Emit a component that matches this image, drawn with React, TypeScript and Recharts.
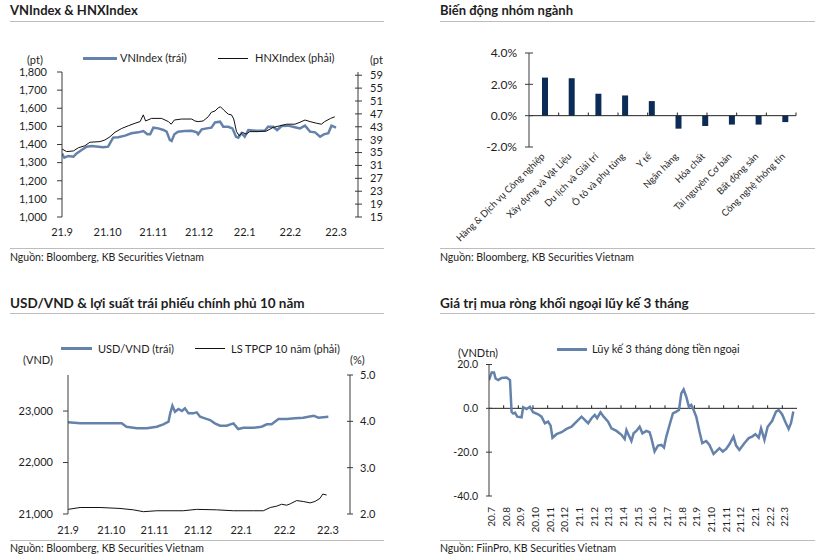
import React from 'react'
import {
  LineChart, Line, BarChart, Bar, XAxis, YAxis, ReferenceLine,
} from 'recharts'

// ---- VNIndex & HNXIndex (x = months since 21.9) ----
const idxMonths = ['21.9', '21.10', '21.11', '21.12', '22.1', '22.2', '22.3']
const vnIndex: [number, number][] = [
  [0, 1351], [0.05, 1327], [0.14, 1337], [0.25, 1333], [0.32, 1351], [0.43, 1370],
  [0.54, 1388], [0.65, 1392], [0.8, 1388], [0.9, 1385], [1.01, 1388], [1.07, 1416],
  [1.12, 1438], [1.23, 1440], [1.38, 1449], [1.52, 1462], [1.67, 1467], [1.78, 1474],
  [1.87, 1456], [1.93, 1456], [2.0, 1493], [2.11, 1489], [2.22, 1480], [2.29, 1471],
  [2.36, 1425], [2.4, 1419], [2.46, 1456], [2.54, 1471], [2.69, 1474], [2.84, 1476],
  [2.95, 1467], [2.98, 1456], [3.06, 1484], [3.17, 1489], [3.27, 1493], [3.35, 1522],
  [3.46, 1526], [3.53, 1498], [3.64, 1498], [3.73, 1489], [3.81, 1443], [3.86, 1438],
  [3.93, 1462], [4.0, 1443], [4.08, 1480], [4.26, 1476], [4.44, 1476], [4.51, 1498],
  [4.62, 1498], [4.71, 1480], [4.81, 1502], [4.95, 1504], [5.1, 1495], [5.21, 1489],
  [5.32, 1504], [5.43, 1471], [5.54, 1467], [5.65, 1443], [5.73, 1456], [5.83, 1462],
  [5.9, 1504], [6.0, 1493],
]
const hnxIndex: [number, number][] = [
  [0, 361], [0.1, 353], [0.25, 355], [0.36, 365], [0.5, 371], [0.61, 382], [0.83, 384],
  [0.94, 389], [1.05, 399], [1.16, 413], [1.31, 425], [1.45, 433], [1.6, 441], [1.71, 446],
  [1.78, 467], [1.83, 448], [1.96, 456], [2.18, 456], [2.33, 446], [2.39, 438], [2.46, 451],
  [2.62, 454], [2.84, 454], [2.91, 448], [2.98, 446], [3.09, 448], [3.2, 461], [3.27, 475],
  [3.35, 479], [3.42, 489], [3.47, 492], [3.54, 482], [3.64, 469], [3.71, 467], [3.76, 454],
  [3.82, 415], [3.88, 402], [3.95, 413], [4.03, 407], [4.11, 415], [4.3, 415], [4.48, 417],
  [4.62, 428], [4.77, 433], [4.92, 438], [5.1, 438], [5.21, 444], [5.32, 451], [5.43, 446],
  [5.57, 441], [5.68, 438], [5.75, 446], [5.88, 456], [5.97, 461],
]
const vnTicks = [1000, 1100, 1200, 1300, 1400, 1500, 1600, 1700, 1800]
const hnxTicks = [150, 190, 230, 270, 310, 350, 390, 430, 470, 510, 550, 590]

// ---- Biến động nhóm ngành ----
const sectors = [
  'Hàng & Dịch vụ Công nghiệp', 'Xây dựng và Vật Liệu', 'Du lịch và Giải trí',
  'Ô tô và phụ tùng', 'Y tế', 'Ngân hàng', 'Hóa chất', 'Tài nguyên Cơ bản',
  'Bất động sản', 'Công nghệ thông tin',
]
const sectorChange = [2.43, 2.39, 1.4, 1.29, 0.93, -0.83, -0.66, -0.57, -0.57, -0.41]
const sectorTicks = [-2, 0, 2, 4]

// ---- USD/VND & LS TPCP 10 năm ----
const fxMonths = ['21.9', '21.10', '21.11', '21.12', '22.1', '22.2', '22.3']
const usdVnd: [number, number][] = [
  [0, 22780], [0.28, 22761], [0.74, 22761], [1.24, 22761], [1.35, 22695], [1.59, 22664],
  [1.82, 22664], [2.05, 22695], [2.2, 22742], [2.32, 22792], [2.36, 22955], [2.41, 23103],
  [2.47, 22987], [2.55, 23039], [2.63, 23000], [2.7, 23052], [2.78, 22955], [2.89, 22955],
  [2.97, 22975], [3.05, 22890], [3.16, 22858], [3.28, 22825], [3.39, 22761], [3.51, 22715],
  [3.66, 22715], [3.82, 22761], [3.93, 22650], [4.05, 22676], [4.28, 22676], [4.47, 22695],
  [4.59, 22742], [4.7, 22742], [4.86, 22845], [5.05, 22845], [5.24, 22858], [5.43, 22870],
  [5.67, 22909], [5.78, 22870], [6.01, 22890],
]
const bondYield: [number, number][] = [
  [0, 2.1], [0.28, 2.14], [0.74, 2.14], [1.2, 2.12], [1.51, 2.09], [1.74, 2.05], [2.05, 2.07],
  [2.66, 2.07], [2.97, 2.1], [3.43, 2.09], [3.82, 2.07], [4.28, 2.07], [4.51, 2.07],
  [4.67, 2.14], [4.82, 2.17], [4.93, 2.21], [5.05, 2.19], [5.13, 2.22], [5.28, 2.29],
  [5.43, 2.27], [5.59, 2.24], [5.7, 2.27], [5.82, 2.34], [5.88, 2.43], [5.97, 2.41],
]
const fxTicks = [21000, 22000, 23000]
const yieldTicks = [2, 3, 4, 5]

// ---- Lũy kế 3 tháng dòng tiền ngoại (x = months since 20.7) ----
const flowMonths = [
  '20.7', '20.8', '20.9', '20.10', '20.11', '20.12', '21.1', '21.2', '21.3', '21.4', '21.5',
  '21.6', '21.7', '21.8', '21.9', '21.10', '21.11', '21.12', '22.1', '22.2', '22.3',
]
const foreignFlow: [number, number][] = [
  [0, 12.9], [0.18, 16.4], [0.34, 16.4], [0.45, 13.6], [0.63, 12.9], [0.86, 13.9], [1.2, 14.1],
  [1.43, 12.9], [1.54, -1.7], [1.65, -2.4], [1.77, -2.0], [1.93, -3.8], [2.22, -4.1],
  [2.33, 0.5], [2.56, -0.3], [2.79, 0.7], [3.01, -1.8], [3.35, -2.7], [3.58, -3.8],
  [3.81, -6.8], [4.03, -6.1], [4.2, -7.9], [4.33, -13.4], [4.6, -11.8], [4.95, -10.9],
  [5.29, -9.4], [5.63, -8.4], [5.97, -6.1], [6.31, -3.8], [6.53, -5.3], [6.76, -6.8],
  [6.99, -4.5], [7.21, -3.0], [7.37, -4.5], [7.6, -1.8], [7.82, -3.8], [8.12, -6.1],
  [8.35, -9.1], [8.69, -10.3], [9.03, -12.1], [9.25, -14.0], [9.37, -9.9], [9.55, -12.6],
  [9.71, -14.9], [9.86, -11.4], [10.05, -10.3], [10.27, -8.4], [10.46, -11.4], [10.73, -10.3],
  [10.95, -10.9], [11.07, -13.6], [11.29, -19.7], [11.52, -17.0], [11.75, -16.7],
  [11.93, -17.9], [12.09, -12.9], [12.31, -7.6], [12.54, -2.3], [12.77, -1.5], [12.95, -0.8],
  [13.11, 6.8], [13.27, 8.6], [13.45, 5.3], [13.63, 0.7], [13.79, 1.5], [13.95, -0.8],
  [14.13, -3.8], [14.35, -10.6], [14.54, -15.9], [14.81, -14.9], [15.03, -16.7],
  [15.31, -20.8], [15.53, -19.4], [15.71, -18.2], [15.94, -19.7], [16.17, -18.5],
  [16.39, -16.4], [16.67, -12.9], [16.85, -17.0], [17.07, -19.0], [17.41, -15.9],
  [17.71, -13.6], [17.94, -12.9], [18.16, -11.8], [18.39, -13.4], [18.55, -9.1],
  [18.78, -14.4], [19.0, -8.4], [19.3, -5.8], [19.57, -1.5], [19.75, -0.8], [19.98, -2.7],
  [20.2, -6.1], [20.43, -9.4], [20.59, -6.8], [20.75, -1.5],
]
const flowTicks = [-40, -20, 0, 20]

const FONT = 'Lato, "Noto Sans", sans-serif'
const TEXT = '#1e1e1e'
const AXIS = '#3a3a3a'
const BLUE = '#6482ab'
const NAVY = '#0b2c56'
const RULE = '#bdbdbd'

const toPts = (arr: [number, number][]) => arr.map(([m, v]) => ({ m, v }))
const fmtThousands = (v: number) => v.toLocaleString('en-US')

// y-axis tick: short tick line (cross or outside) plus its label
function AxisTick(props: any) {
  const { x, y, payload, side, inner = 0, outer = 4, gap = 10, size = 11, fmt } = props
  const dir = side === 'left' ? -1 : 1
  return (
    <g>
      <line x1={x - dir * inner} x2={x + dir * outer} y1={y} y2={y} stroke={AXIS} strokeWidth={1} />
      <text x={x + dir * gap} y={y} dy="0.35em" textAnchor={side === 'left' ? 'end' : 'start'}
        fontSize={size} fill={TEXT} fontFamily={FONT}>
        {fmt ? fmt(payload.value) : payload.value}
      </text>
    </g>
  )
}

function SlantTick(props: any) {
  const { x, y, payload } = props
  const tx = x + 3
  const ty = y + 10
  return (
    <text x={tx} y={ty} transform={`rotate(-45 ${tx} ${ty})`} textAnchor="end"
      fontSize={9.5} fill={TEXT} fontFamily={FONT}>
      {payload.value}
    </text>
  )
}

function VertTick(props: any) {
  const { x, y, payload } = props
  const tx = x + 6
  const ty = y + 11
  return (
    <text x={tx} y={ty} transform={`rotate(-90 ${tx} ${ty})`} textAnchor="end"
      fontSize={10} fill={TEXT} fontFamily={FONT}>
      {flowMonths[payload.value]}
    </text>
  )
}

function Txt({ x, y, size = 11, bold = false, children }: any) {
  return (
    <div style={{
      position: 'absolute', left: x, top: y - size * 0.6, fontSize: size,
      lineHeight: `${size * 1.2}px`, fontWeight: bold ? 700 : 400, whiteSpace: 'nowrap',
    }}>
      {children}
    </div>
  )
}

function Rule({ x, y, w }: any) {
  return <div style={{ position: 'absolute', left: x, top: y, width: w, height: 1, background: RULE }} />
}

function Swatch({ x, y, w, h, color }: any) {
  return <div style={{ position: 'absolute', left: x, top: y - h / 2, width: w, height: h, background: color }} />
}

export default function App() {
  const tickNums = (n: number) => Array.from({ length: n }, (_, i) => i)
  const sectorData = sectors.map((name, i) => ({ name, v: sectorChange[i] }))

  return (
    <div style={{
      position: 'absolute', left: 0, top: 0, width: 823, height: 556, background: '#fff',
      fontFamily: FONT, color: TEXT, overflow: 'hidden',
    }}>
      {/* ---------- top left ---------- */}
      <Txt x={10} y={11} size={13} bold>VNIndex &amp; HNXIndex</Txt>
      <Rule x={10} y={21} w={374} />
      <Swatch x={83} y={58} w={34} h={3} color={BLUE} />
      <Txt x={120} y={58} size={11}>VNIndex (trái)</Txt>
      <Swatch x={218} y={58} w={30} h={1} color="#111" />
      <Txt x={255} y={58} size={11}>HNXIndex (phải)</Txt>
      <Txt x={27} y={60} size={11}>(pt)</Txt>
      <div style={{ position: 'absolute', left: 0, top: 30, width: 383, height: 215, overflow: 'hidden' }}>
        <div style={{ position: 'absolute', left: 370, top: 30 - 6.6, fontSize: 11, lineHeight: '13.2px', whiteSpace: 'nowrap' }}>(pt)</div>
        <LineChart width={400} height={215} margin={{ top: 42, right: 0, bottom: 0, left: 0 }}>
          <XAxis dataKey="m" type="number" domain={[0, 6.48]} ticks={tickNums(7)} allowDataOverflow
            interval={0} tickFormatter={(i: number) => idxMonths[i]} axisLine={false} tickLine={false}
            tickSize={0} tickMargin={11} height={28} tick={{ fontSize: 11, fill: TEXT, fontFamily: FONT }} />
          <YAxis yAxisId="l" width={62} domain={[1000, 1800]} ticks={vnTicks} interval={0} stroke={AXIS}
            tickLine={false} tickSize={0} tickMargin={0}
            tick={<AxisTick side="left" outer={5} gap={15} size={11} fmt={fmtThousands} />} />
          <YAxis yAxisId="r" orientation="right" width={42} domain={[150, 600]} ticks={hnxTicks}
            interval={0} stroke={AXIS} tickLine={false} tickSize={0} tickMargin={0}
            tick={<AxisTick side="right" inner={3} outer={4} gap={12} size={11} />} />
          <Line yAxisId="l" data={toPts(vnIndex)} dataKey="v" stroke={BLUE} strokeWidth={2.5}
            dot={false} isAnimationActive={false} />
          <Line yAxisId="r" data={toPts(hnxIndex)} dataKey="v" stroke="#111" strokeWidth={1}
            dot={false} isAnimationActive={false} />
        </LineChart>
      </div>
      <Rule x={10} y={248} w={374} />
      <Txt x={10} y={257} size={10.5}>Nguồn: Bloomberg, KB Securities Vietnam</Txt>

      {/* ---------- top right ---------- */}
      <Txt x={440} y={11} size={13} bold>Biến động nhóm ngành</Txt>
      <Rule x={440} y={21} w={375} />
      <div style={{ position: 'absolute', left: 440, top: 30, width: 375, height: 215 }}>
        <BarChart width={375} height={215} data={sectorData} barGap={0} barSize={6}
          margin={{ top: 23, right: 19, bottom: 0, left: 0 }}>
          <XAxis xAxisId="c" dataKey="name" axisLine={false} tickLine={false} tickSize={0}
            tickMargin={0} height={98} interval={0} tick={<SlantTick />} />
          <XAxis xAxisId="n" type="number" domain={[0, 10]} hide allowDataOverflow />
          <YAxis width={89} domain={[-2, 4]} ticks={sectorTicks} interval={0} stroke={AXIS}
            tickLine={false} tickSize={0} tickMargin={0}
            tick={<AxisTick side="left" inner={4} outer={4} gap={12} size={12}
              fmt={(v: number) => `${v.toFixed(1)}%`} />} />
          <ReferenceLine xAxisId="c" y={0} stroke="#222" strokeWidth={1} />
          {tickNums(10).map(k => (
            <ReferenceLine key={k} xAxisId="n" stroke="#222" strokeWidth={1}
              segment={[{ x: k + 1, y: 0 }, { x: k + 1, y: 0.2 }]} />
          ))}
          <Bar xAxisId="c" dataKey="pad" fill="none" isAnimationActive={false} />
          <Bar xAxisId="c" dataKey="v" fill={NAVY} isAnimationActive={false} />
        </BarChart>
      </div>
      <Rule x={440} y={248} w={375} />
      <Txt x={440} y={257} size={10.5}>Nguồn: Bloomberg, KB Securities Vietnam</Txt>

      {/* ---------- bottom left ---------- */}
      <Txt x={10} y={303} size={13.5} bold>USD/VND &amp; lợi suất trái phiếu chính phủ 10 năm</Txt>
      <Rule x={10} y={313} w={374} />
      <Swatch x={61} y={348.5} w={31} h={3} color={BLUE} />
      <Txt x={98} y={349} size={11}>USD/VND (trái)</Txt>
      <Swatch x={195} y={348.5} w={30} h={1} color="#111" />
      <Txt x={231} y={349} size={11}>LS TPCP 10 năm (phải)</Txt>
      <Txt x={23} y={360} size={11}>(VND)</Txt>
      <Txt x={350} y={360} size={11}>(%)</Txt>
      <div style={{ position: 'absolute', left: 0, top: 320, width: 385, height: 222 }}>
        <LineChart width={385} height={222} margin={{ top: 55, right: 0, bottom: 0, left: 0 }}>
          <XAxis dataKey="m" type="number" domain={[0, 6.51]} ticks={tickNums(7)} allowDataOverflow
            interval={0} tickFormatter={(i: number) => fxMonths[i]} axisLine={false} tickLine={false}
            tickSize={0} tickMargin={12} height={28} tick={{ fontSize: 11, fill: TEXT, fontFamily: FONT }} />
          <YAxis yAxisId="l" width={68} domain={[21000, 23700]} ticks={fxTicks} interval={0} stroke={AXIS}
            tickLine={false} tickSize={0} tickMargin={0}
            tick={<AxisTick side="left" outer={5} gap={15} size={11} fmt={fmtThousands} />} />
          <YAxis yAxisId="r" orientation="right" width={35} domain={[2, 5]} ticks={yieldTicks}
            interval={0} stroke={AXIS} tickLine={false} tickSize={0} tickMargin={0}
            tick={<AxisTick side="right" inner={3} outer={3} gap={10} size={11}
              fmt={(v: number) => v.toFixed(1)} />} />
          <Line yAxisId="l" data={toPts(usdVnd)} dataKey="v" stroke={BLUE} strokeWidth={2.5}
            dot={false} isAnimationActive={false} />
          <Line yAxisId="r" data={toPts(bondYield)} dataKey="v" stroke="#111" strokeWidth={1}
            dot={false} isAnimationActive={false} />
        </LineChart>
      </div>
      <Rule x={10} y={540} w={374} />
      <Txt x={10} y={548} size={10.5}>Nguồn: Bloomberg, KB Securities Vietnam</Txt>

      {/* ---------- bottom right ---------- */}
      <Txt x={440} y={303} size={13.5} bold>Giá trị mua ròng khối ngoại lũy kế 3 tháng</Txt>
      <Rule x={440} y={313} w={375} />
      <Swatch x={557} y={349} w={30} h={3} color={BLUE} />
      <Txt x={592} y={349} size={11}>Lũy kế 3 tháng dòng tiền ngoại</Txt>
      <Txt x={458} y={353} size={11}>(VNDtn)</Txt>
      <div style={{ position: 'absolute', left: 440, top: 320, width: 375, height: 222 }}>
        <LineChart width={375} height={222} margin={{ top: 44.5, right: 18, bottom: 0, left: 0 }}>
          <XAxis dataKey="m" type="number" domain={[0, 21]} ticks={tickNums(21)} allowDataOverflow
            interval={0} axisLine={false} tickLine={false} tickSize={0} tickMargin={0} height={46}
            tick={<VertTick />} />
          <YAxis width={49} domain={[-40, 20]} ticks={flowTicks} interval={0} stroke={AXIS}
            tickLine={false} tickSize={0} tickMargin={0}
            tick={<AxisTick side="left" inner={3} outer={3} gap={11} size={10.5}
              fmt={(v: number) => v.toFixed(1)} />} />
          <ReferenceLine y={0} stroke="#222" strokeWidth={1} />
          {tickNums(20).map(k => (
            <ReferenceLine key={k} stroke="#222" strokeWidth={1}
              segment={[{ x: k + 1, y: 0 }, { x: k + 1, y: 1.4 }]} />
          ))}
          <Line data={toPts(foreignFlow)} dataKey="v" stroke={BLUE} strokeWidth={2.5}
            dot={false} isAnimationActive={false} />
        </LineChart>
      </div>
      <Rule x={440} y={540} w={375} />
      <Txt x={440} y={548} size={10.5}>Nguồn: FiinPro, KB Securities Vietnam</Txt>
    </div>
  )
}
